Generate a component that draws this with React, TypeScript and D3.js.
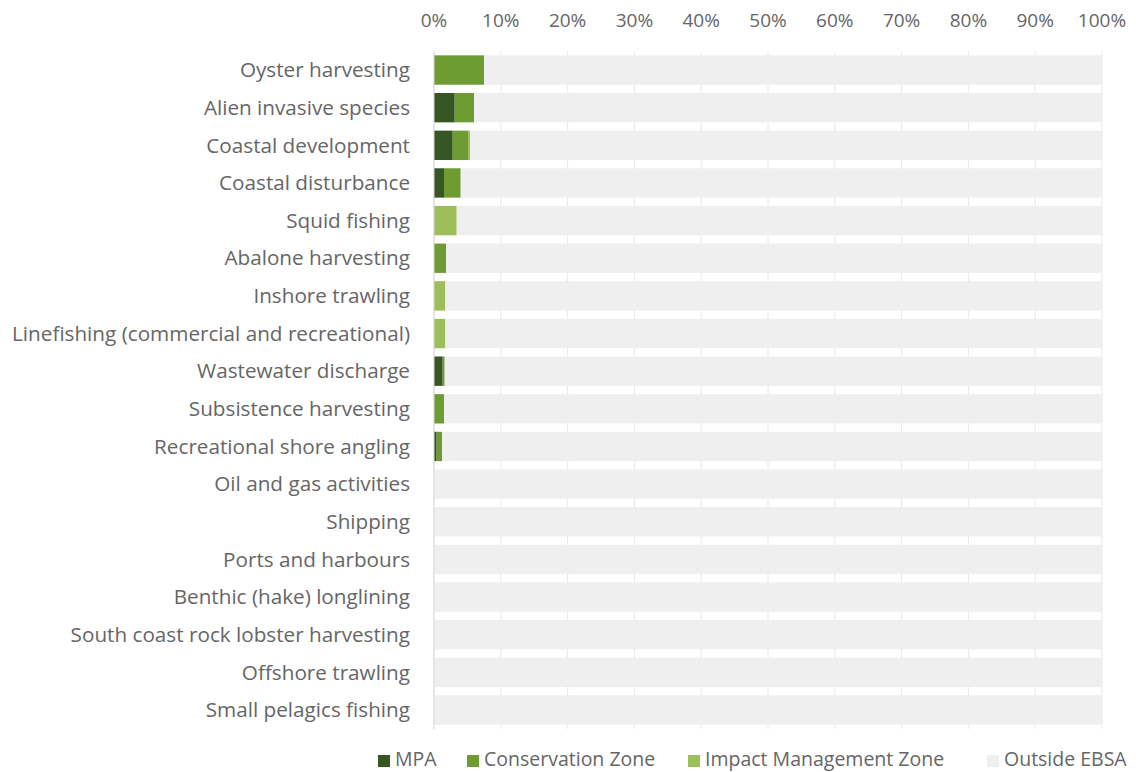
import React from "react";
import * as d3 from "d3";

const categories = [
  "Oyster harvesting",
  "Alien invasive species",
  "Coastal development",
  "Coastal disturbance",
  "Squid fishing",
  "Abalone harvesting",
  "Inshore trawling",
  "Linefishing (commercial and recreational)",
  "Wastewater discharge",
  "Subsistence harvesting",
  "Recreational shore angling",
  "Oil and gas activities",
  "Shipping",
  "Ports and harbours",
  "Benthic (hake) longlining",
  "South coast rock lobster harvesting",
  "Offshore trawling",
  "Small pelagics fishing",
];

const mpa = [0, 3.1, 2.8, 1.5, 0, 0, 0, 0, 1.3, 0, 0.4, 0, 0, 0, 0, 0, 0, 0];
const conservationZone = [7.5, 2.9, 2.3, 2.5, 0, 1.8, 0, 0, 0.3, 1.5, 0.8, 0, 0, 0, 0, 0, 0, 0];
const impactManagementZone = [0, 0, 0.3, 0, 3.4, 0, 1.7, 1.7, 0, 0, 0, 0, 0, 0, 0, 0, 0, 0];
const outsideEbsa = categories.map((_, i) => 100 - mpa[i] - conservationZone[i] - impactManagementZone[i]);

const seriesNames = ["MPA", "Conservation Zone", "Impact Management Zone", "Outside EBSA"];
const seriesColors = ["#375623", "#6e9c32", "#9cbf5a", "#efefef"];
const ticks = [0, 10, 20, 30, 40, 50, 60, 70, 80, 90, 100];

const legendX = [378, 467, 688, 987];

export default function App() {
  const width = 1136;
  const height = 772;
  const x = d3.scaleLinear().domain([0, 100]).range([434, 1102]);
  const y = d3
    .scaleBand<string>()
    .domain(categories)
    .range([51.2, 728.8])
    .paddingInner(0.22)
    .paddingOuter(0.11);

  const rows = categories.map((c, i) => ({
    c,
    MPA: mpa[i],
    "Conservation Zone": conservationZone[i],
    "Impact Management Zone": impactManagementZone[i],
    "Outside EBSA": outsideEbsa[i],
  }));
  const stacked = d3.stack<any>().keys(seriesNames)(rows);

  const font = "'Open Sans', sans-serif";
  const textColor = "#666666";

  return (
    <svg
      width={width}
      height={height}
      style={{ position: "absolute", left: 0, top: 0, background: "#fff" }}
      fontFamily={font}
    >
      {ticks.map((t) => (
        <line key={"g" + t} x1={x(t)} x2={x(t)} y1={51} y2={729} stroke="#e8e8e8" strokeWidth={1} />
      ))}
      {stacked.map((s, si) => (
        <g key={s.key} fill={seriesColors[si]}>
          {s.map((d, i) => {
            const w = x(d[1]) - x(d[0]);
            if (w <= 0) return null;
            return (
              <rect
                key={i}
                x={x(d[0])}
                y={y(categories[i])}
                width={w}
                height={y.bandwidth()}
              />
            );
          })}
        </g>
      ))}
      <line x1={x(0)} x2={x(0)} y1={51} y2={729} stroke="#d9d9d9" strokeWidth={1} />
      {ticks.map((t) => (
        <text
          key={"t" + t}
          x={x(t)}
          y={27}
          textAnchor="middle"
          fontSize={19}
          fill={textColor}
        >
          {t + "%"}
        </text>
      ))}
      {categories.map((c) => (
        <text
          key={c}
          x={410}
          y={(y(c) as number) + y.bandwidth() / 2}
          dy="0.35em"
          textAnchor="end"
          fontSize={20.7}
          fill={textColor}
        >
          {c}
        </text>
      ))}
      {seriesNames.map((n, i) => (
        <g key={n} transform={`translate(${legendX[i]},0)`}>
          <rect x={0} y={755} width={12} height={12} fill={seriesColors[i]} />
          <text x={17} y={766} fontSize={19.5} fill={textColor}>
            {n}
          </text>
        </g>
      ))}
    </svg>
  );
}
